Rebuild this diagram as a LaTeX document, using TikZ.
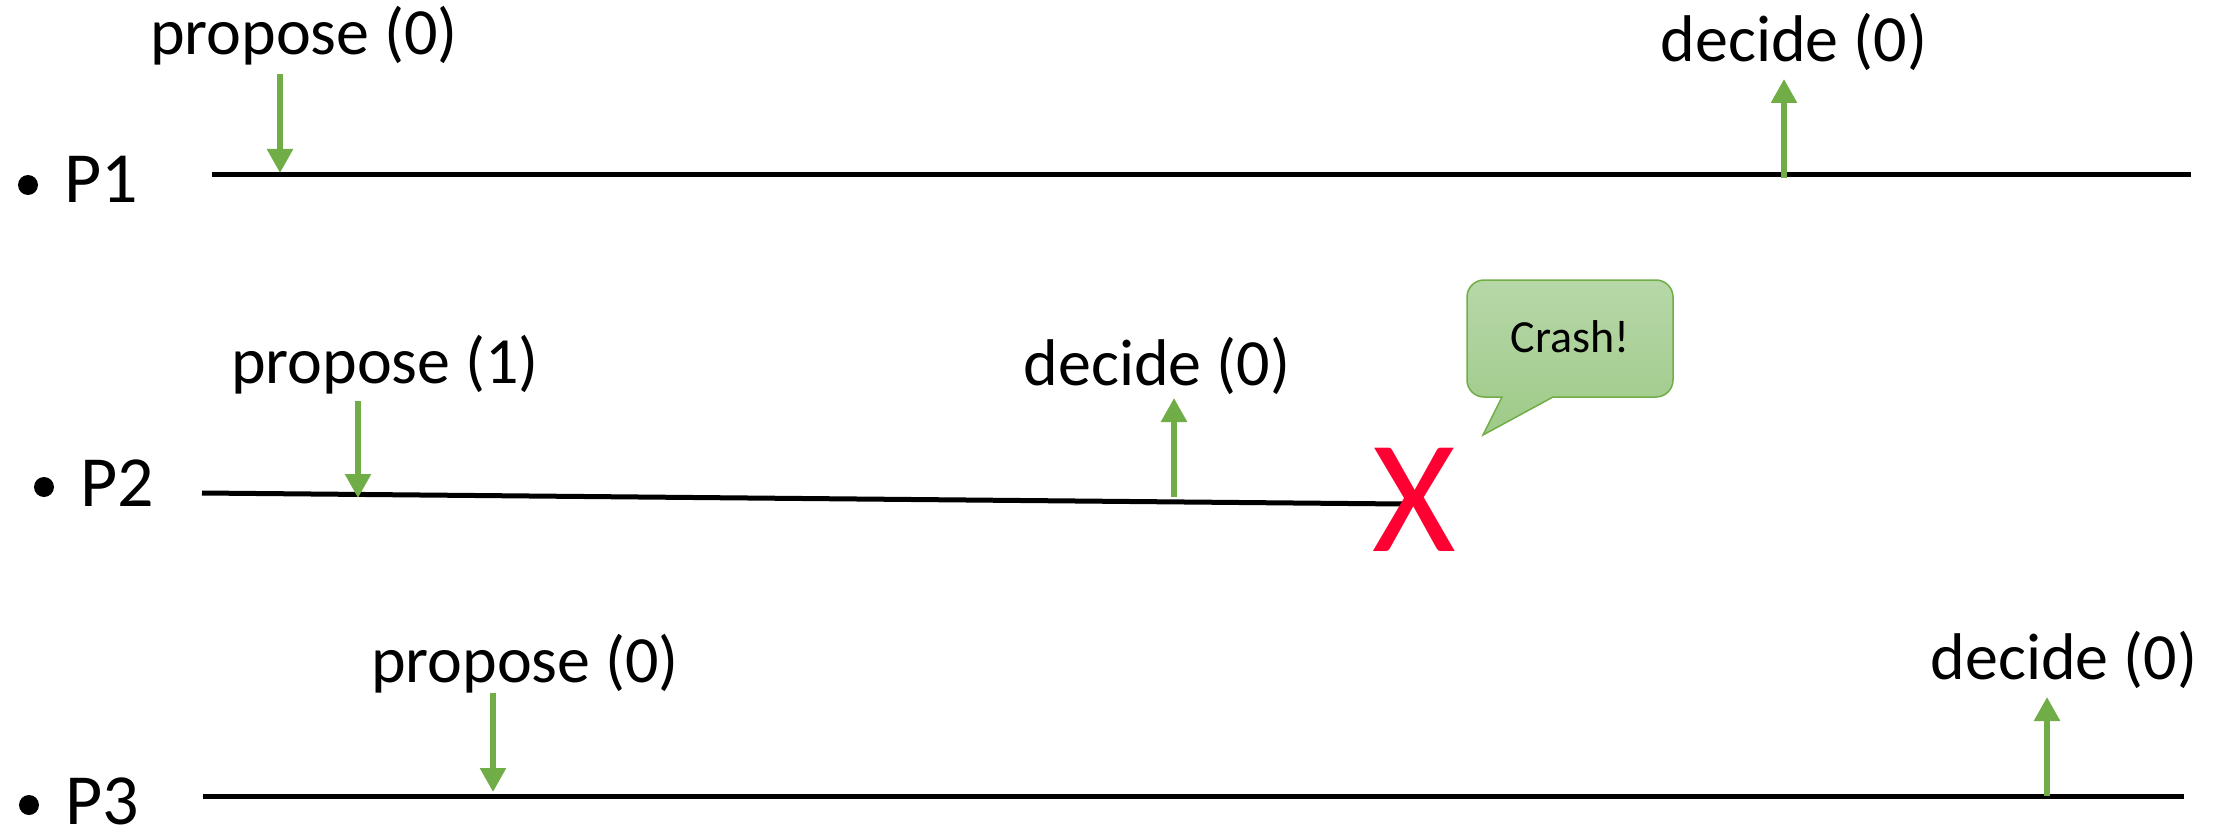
\documentclass[tikz,border=0pt]{standalone}
\usepackage{fontspec}
\setmainfont{Carlito}
\usetikzlibrary{arrows.meta}
\definecolor{evgreen}{RGB}{112,173,71}
\definecolor{crashred}{RGB}{255,0,51}
\definecolor{bubtop}{RGB}{183,215,168}
\definecolor{bubbot}{RGB}{158,202,136}
\begin{document}
\begin{tikzpicture}[x=1pt,y=-1pt,
  timeline/.style={line width=5pt, black},
  event/.style={draw=evgreen, line width=5.5pt, -{Triangle[width=25pt,length=24pt]}},
  evlabel/.style={anchor=base, inner sep=0pt, font=\fontsize{66}{66}\selectfont},
  proc/.style={anchor=base, inner sep=0pt, text depth=0pt, font=\fontsize{72}{72}\selectfont},
  bullet/.style={circle, fill=black, inner sep=0pt, minimum size=20pt},
  bubble/.style={draw=evgreen, line width=1.5pt, top color=bubtop, bottom color=bubbot}]
\useasboundingbox (0,0) rectangle (2216,837);

% process names
\node[bullet] (b1) at (28,185) {};
\node[proc] (n1) at (101,203) {P1};
\node[bullet] (b2) at (44,487) {};
\node[proc] (n2) at (117,506) {P2};
\node[bullet] (b3) at (29,805) {};
\node[proc] (n3) at (102,824) {P3};

% time lines
\coordinate (l1a) at (212,175);
\coordinate (l1b) at (2191,175);
\coordinate (l2a) at (202,493);
\coordinate (l2b) at (1403,504);
\coordinate (l3a) at (203,796);
\coordinate (l3b) at (2184,796);
\draw[timeline] (l1a) -- (l1b);
\draw[timeline] (l2a) -- (l2b);
\draw[timeline] (l3a) -- (l3b);

% P1 events
\node[evlabel] (p1prop) at (304,55) {propose (0)};
\coordinate (p1s) at (280,74);
\coordinate (p1t) at (280,173);
\draw[event] (p1s) -- (p1t);
\node[evlabel] (p1dec) at (1794,62) {decide (0)};
\coordinate (d1s) at (1784,178);
\coordinate (d1t) at (1784,79);
\draw[event] (d1s) -- (d1t);

% P2 events
\node[evlabel] (p2prop) at (385,383) {propose (1)};
\coordinate (p2s) at (358,401);
\coordinate (p2t) at (358,498);
\draw[event] (p2s) -- (p2t);
\node[evlabel] (p2dec) at (1157,385) {decide (0)};
\coordinate (d2s) at (1174,497);
\coordinate (d2t) at (1174,398);
\draw[event] (d2s) -- (d2t);

% P3 events
\node[evlabel] (p3prop) at (525,682) {propose (0)};
\coordinate (p3s) at (493,693);
\coordinate (p3t) at (493,792);
\draw[event] (p3s) -- (p3t);
\node[evlabel] (p3dec) at (2064,679) {decide (0)};
\coordinate (d3s) at (2047,796);
\coordinate (d3t) at (2047,697);
\draw[event] (d3s) -- (d3t);

% crash of P2
\node[anchor=base, inner sep=0pt, text=crashred, font=\fontsize{161}{161}\selectfont] (crash) at (1414,551) {X};

% speech bubble
\path[bubble] (1553,397) -- (1656,397) arc[start angle=90, end angle=0, radius=17]
  -- (1673,297) arc[start angle=0, end angle=-90, radius=17]
  -- (1484,280) arc[start angle=-90, end angle=-180, radius=17]
  -- (1467,380) arc[start angle=180, end angle=90, radius=17]
  -- (1502,397) -- (1483,435) -- cycle;
\node[anchor=base, inner sep=0pt, font=\fontsize{46}{46}\selectfont] (crashtext) at (1570,352) {Crash!};
\end{tikzpicture}
\end{document}
